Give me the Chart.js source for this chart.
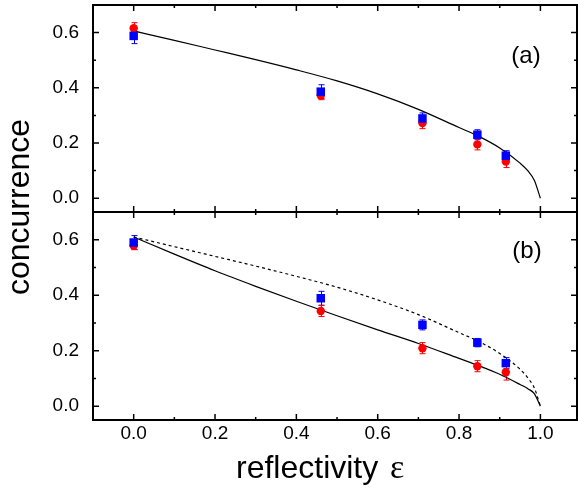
<!DOCTYPE html>
<html lang="en">
<head>
  <meta charset="UTF-8">
  <title>Concurrence vs reflectivity</title>
  <script src="https://cdn.jsdelivr.net/npm/chart.js"></script>
  <style>
    html, body { margin: 0; padding: 0; background: #fff; }
    #wrap { position: relative; width: 578px; height: 487px; }
    #wrap canvas { position: absolute; left: 0; top: 0; }
  </style>
</head>
<body>
  <div id="wrap">
    <canvas id="chartA" width="578" height="487"></canvas>
    <canvas id="chartB" width="578" height="487"></canvas>
  </div>

  <script>
    // measured points (reflectivity values)
    const epsPts = [0, 0.46, 0.71, 0.845, 0.915];

    // panel (a)
    const aRed = [0.616, 0.372, 0.272, 0.195, 0.133];
    const aRedErr = [0.02, 0.015, 0.02, 0.02, 0.022];
    const aBlue = [0.588, 0.386, 0.289, 0.230, 0.154];
    const aBlueErr = [0.028, 0.025, 0.02, 0.018, 0.018];

    // panel (b)
    const bRed = [0.578, 0.343, 0.209, 0.144, 0.122];
    const bRedErr = [0.014, 0.02, 0.02, 0.02, 0.028];
    const bBlue = [0.590, 0.389, 0.293, 0.229, 0.155];
    const bBlueErr = [0.025, 0.025, 0.018, 0.015, 0.02];

    // theory curves
    const epsCurve = [0, 0.1, 0.2, 0.3, 0.4, 0.5, 0.6, 0.7, 0.8, 0.85, 0.9, 0.95, 0.97, 0.985, 1.0];
    const curveA = [0.606, 0.572, 0.537, 0.502, 0.465, 0.425, 0.378, 0.322, 0.256, 0.223, 0.182, 0.127, 0.098, 0.065, 0];
    const curveBDash = [0.610, 0.575, 0.540, 0.505, 0.468, 0.429, 0.383, 0.330, 0.265, 0.232, 0.190, 0.133, 0.100, 0.066, 0];
    const curveBSolid = [0.610, 0.548, 0.488, 0.432, 0.378, 0.326, 0.275, 0.226, 0.172, 0.145, 0.115, 0.078, 0.062, 0.045, 0];

    // axes
    const xTickVals = [0, 0.2, 0.4, 0.6, 0.8, 1.0];
    const xMinorVals = [0.1, 0.3, 0.5, 0.7, 0.9];
    const yTickVals = [0, 0.2, 0.4, 0.6];
    const yMinorVals = [0.1, 0.3, 0.5];

    const RED = '#ff0000';
    const BLUE = '#0000ff';
    const FONT = 'Arial, "Liberation Sans", sans-serif';

    const pts = ys => epsPts.map((x, i) => ({ x: x, y: ys[i] }));
    const curve = ys => epsCurve.map((x, i) => ({ x: x, y: ys[i] }));

    function markers(ys, errs, color, style, r) {
      return {
        data: pts(ys), yErr: errs,
        pointStyle: style, pointRadius: r,
        backgroundColor: color, borderColor: color, borderWidth: 0
      };
    }

    function theory(ys, dash) {
      return {
        data: curve(ys), showLine: true, pointRadius: 0,
        borderColor: '#000', borderWidth: 1.2, borderDash: dash,
        cubicInterpolationMode: 'monotone'
      };
    }

    // no label overflow padding, the frame is placed by layout.padding
    function noPad(s) {
      s.paddingTop = 0; s.paddingBottom = 0;
      s.paddingLeft = 0; s.paddingRight = 0;
    }

    // frame, inward ticks, error bars, panel labels, axis titles
    const panelDeco = {
      id: 'panelDeco',
      beforeDatasetsDraw(chart) {
        const { ctx, scales: { x, y } } = chart;
        chart.data.datasets.forEach(ds => {
          if (!ds.yErr) return;
          ctx.save();
          ctx.strokeStyle = ds.borderColor;
          ctx.lineWidth = 1;
          ds.data.forEach((p, i) => {
            const px = Math.round(x.getPixelForValue(p.x)) + 0.5;
            const y1 = y.getPixelForValue(p.y + ds.yErr[i]);
            const y2 = y.getPixelForValue(p.y - ds.yErr[i]);
            ctx.beginPath();
            ctx.moveTo(px, y1); ctx.lineTo(px, y2);
            ctx.moveTo(px - 3, y1); ctx.lineTo(px + 3, y1);
            ctx.moveTo(px - 3, y2); ctx.lineTo(px + 3, y2);
            ctx.stroke();
          });
          ctx.restore();
        });
      },
      afterDraw(chart, args, opts) {
        const { ctx, chartArea: a, scales: { x, y } } = chart;
        ctx.save();
        ctx.strokeStyle = '#000';
        ctx.fillStyle = '#000';

        ctx.beginPath();
        ctx.lineWidth = 1.5;
        const xt = (vals, len) => vals.forEach(v => {
          const px = x.getPixelForValue(v);
          ctx.moveTo(px, a.bottom); ctx.lineTo(px, a.bottom - len);
          ctx.moveTo(px, a.top); ctx.lineTo(px, a.top + len);
        });
        const yt = (vals, len) => vals.forEach(v => {
          const py = y.getPixelForValue(v);
          ctx.moveTo(a.left, py); ctx.lineTo(a.left + len, py);
          ctx.moveTo(a.right, py); ctx.lineTo(a.right - len, py);
        });
        xt(xTickVals, 6); xt(xMinorVals, 3);
        yt(yTickVals, 6); yt(yMinorVals, 3);
        ctx.stroke();

        ctx.lineWidth = 2;
        ctx.strokeRect(a.left, a.top, a.right - a.left, a.bottom - a.top);

        ctx.font = '24px ' + FONT;
        ctx.textAlign = 'center';
        ctx.textBaseline = 'middle';
        ctx.fillText(opts.label, opts.labelX, opts.labelY);

        if (opts.yTitle) {
          ctx.save();
          ctx.translate(20, 207);
          ctx.rotate(-Math.PI / 2);
          ctx.font = '32px ' + FONT;
          ctx.fillText(opts.yTitle, 0, 0);
          ctx.restore();
        }
        if (opts.xTitle) {
          ctx.font = '32px ' + FONT;
          ctx.textAlign = 'left';
          ctx.textBaseline = 'alphabetic';
          ctx.fillText(opts.xTitle, 236, 478);
          ctx.font = '34px "Liberation Serif", "Times New Roman", serif';
          ctx.fillText('\u03b5', 390, 478);
        }
        ctx.restore();
      }
    };

    function panel(id, datasets, isBottom, deco) {
      return new Chart(document.getElementById(id), {
        type: 'scatter',
        data: { datasets: datasets },
        options: {
          responsive: false,
          animation: false,
          layout: {
            autoPadding: false,
            padding: { left: 0, right: 1, top: isBottom ? 212 : 5, bottom: isBottom ? 0 : 275 }
          },
          scales: {
            x: {
              type: 'linear', min: -0.1, max: 1.09, display: isBottom,
              grid: { display: false }, border: { display: false },
              afterBuildTicks: s => { s.ticks = xTickVals.map(v => ({ value: v })); },
              afterFit: s => { s.height = isBottom ? 67 : 0; noPad(s); },
              ticks: {
                color: '#000', padding: -6, autoSkip: false, maxRotation: 0,
                font: { family: FONT, size: 19 },
                callback: v => v.toFixed(1)
              }
            },
            y: {
              type: 'linear', min: -0.05, max: 0.7,
              grid: { display: false }, border: { display: false },
              afterBuildTicks: s => { s.ticks = yTickVals.map(v => ({ value: v })); },
              afterFit: s => { s.width = 93; noPad(s); },
              ticks: {
                color: '#000', padding: 6,
                font: { family: FONT, size: 19 },
                callback: v => v.toFixed(1)
              }
            }
          },
          plugins: {
            legend: { display: false },
            tooltip: { enabled: false },
            panelDeco: deco
          }
        },
        plugins: [panelDeco]
      });
    }

    panel('chartA', [
      markers(aBlue, aBlueErr, BLUE, 'rect', 6),
      markers(aRed, aRedErr, RED, 'circle', 4.2),
      theory(curveA, [])
    ], false, { label: '(a)', labelX: 526, labelY: 56, yTitle: 'concurrence' });

    panel('chartB', [
      markers(bBlue, bBlueErr, BLUE, 'rect', 6),
      markers(bRed, bRedErr, RED, 'circle', 4.2),
      theory(curveBSolid, []),
      theory(curveBDash, [3, 3])
    ], true, { label: '(b)', labelX: 527, labelY: 251, xTitle: 'reflectivity' });
  </script>
</body>
</html>
